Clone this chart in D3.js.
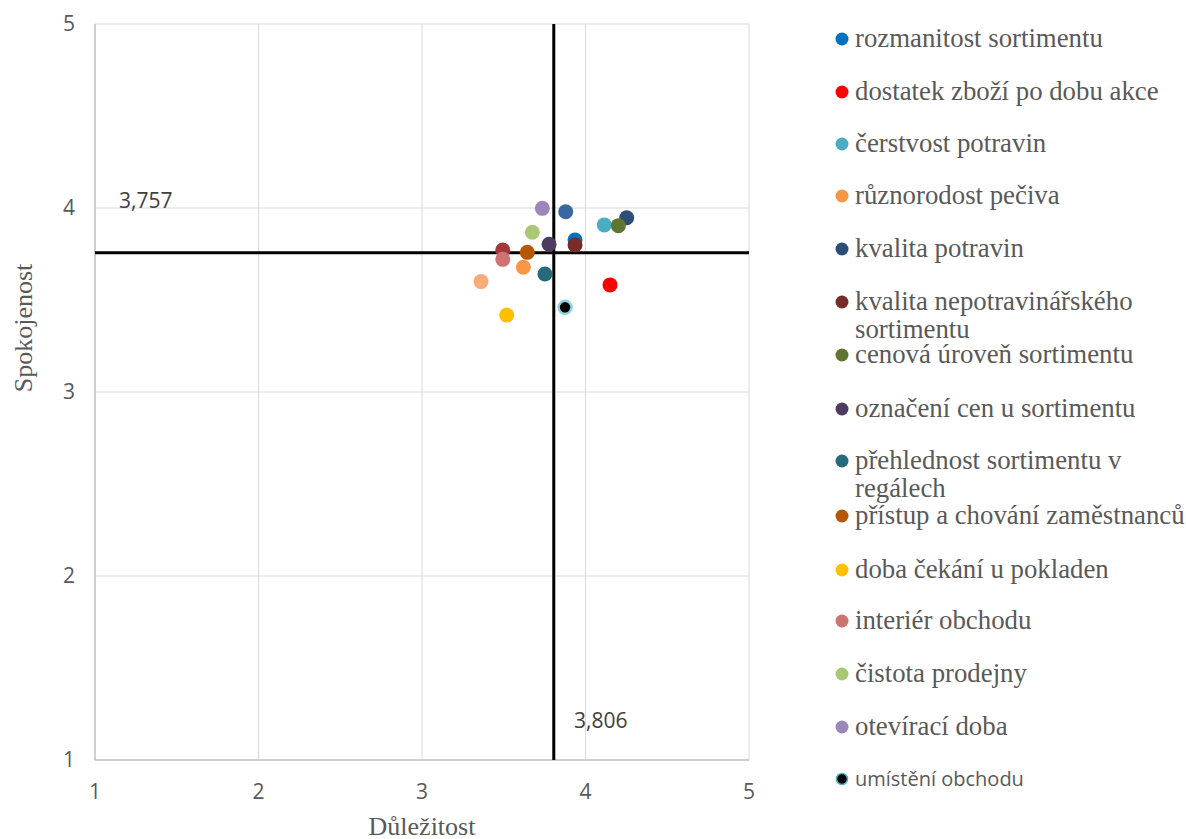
<!DOCTYPE html>
<html><head><meta charset="utf-8">
<script src="https://cdn.jsdelivr.net/npm/d3@7"></script>
<style>body{margin:0;background:#fff}</style>
</head><body>
<svg id="c" width="1186" height="839"></svg>
<script>
// Legend series (name, colour)
const seriesNames = ["rozmanitost sortimentu","dostatek zboží po dobu akce","čerstvost potravin","různorodost pečiva","kvalita potravin","kvalita nepotravinářského sortimentu","cenová úroveň sortimentu","označení cen u sortimentu","přehlednost sortimentu v regálech","přístup a chování zaměstnanců","doba čekání u pokladen","interiér obchodu","čistota prodejny","otevírací doba","umístění obchodu"];
const seriesColors = ["#0070C0","#FF0000","#4BACC6","#F79646","#2C4D75","#772C2A","#5F7530","#4D3B62","#276A7C","#B65708","#FFC000","#CD7371","#A9C873","#9C86BA","#000000"];
// Points: importance (x) and satisfaction (y) for each series, drawn in this order
const pointSeries = ["rozmanitost sortimentu","extra1","extra2","extra3","dostatek zboží po dobu akce","čerstvost potravin","různorodost pečiva","kvalita potravin","interiér obchodu","kvalita nepotravinářského sortimentu","cenová úroveň sortimentu","označení cen u sortimentu","přehlednost sortimentu v regálech","přístup a chování zaměstnanců","doba čekání u pokladen","čistota prodejny","otevírací doba","umístění obchodu"];
const pointX = [3.936,3.879,3.361,3.494,4.150,4.115,3.620,4.252,3.494,3.936,4.201,3.777,3.752,3.644,3.518,3.675,3.736,3.875];
const pointY = [3.826,3.980,3.600,3.772,3.582,3.908,3.678,3.947,3.721,3.799,3.904,3.803,3.641,3.759,3.418,3.868,3.998,3.460];
const extraColors = {extra1:"#3A67A0",extra2:"#F9AC78",extra3:"#A03A3A"};
const xTicks = [1,2,3,4,5];
const yTicks = [1,2,3,4,5];
const meanX = 3.806, meanY = 3.757;
const meanXLabel = "3,806", meanYLabel = "3,757";
const xTitle = "Důležitost", yTitle = "Spokojenost";

const svg = d3.select("#c");
const x = d3.scaleLinear().domain([1,5]).range([95,749]);
const y = d3.scaleLinear().domain([1,5]).range([760,24]);
const colorOf = n => extraColors[n] || seriesColors[seriesNames.indexOf(n)];
const sansFont = "'Open Sans', 'Liberation Sans', sans-serif";
const serifFont = "'Liberation Serif', serif";

// gridlines
svg.append("g").selectAll("line").data(xTicks).join("line")
  .attr("x1",d=>x(d)).attr("x2",d=>x(d)).attr("y1",y(1)).attr("y2",y(5))
  .attr("stroke",d=>d===1?"#bfbfbf":"#d9d9d9").attr("stroke-width",d=>d===1?1.5:1);
svg.append("g").selectAll("line").data(yTicks).join("line")
  .attr("y1",d=>y(d)).attr("y2",d=>y(d)).attr("x1",x(1)).attr("x2",x(5))
  .attr("stroke",d=>d===1?"#bfbfbf":"#d9d9d9").attr("stroke-width",d=>d===1?1.5:1);

// tick labels
svg.append("g").selectAll("text").data(xTicks).join("text")
  .attr("x",d=>x(d)).attr("y",799).attr("text-anchor","middle")
  .attr("font-family",sansFont).attr("font-size",21).attr("fill","#595959").text(d=>d);
svg.append("g").selectAll("text").data(yTicks).join("text")
  .attr("x",75).attr("y",d=>y(d)+7).attr("text-anchor","end")
  .attr("font-family",sansFont).attr("font-size",21).attr("fill","#595959").text(d=>d);

// axis titles
svg.append("text").attr("x",422).attr("y",835).attr("text-anchor","middle")
  .attr("font-family",serifFont).attr("font-size",26).attr("fill","#595959").text(xTitle);
svg.append("text").attr("transform","translate(32,328) rotate(-90)").attr("text-anchor","middle")
  .attr("font-family",serifFont).attr("font-size",26).attr("fill","#595959").text(yTitle);

// mean lines
svg.append("line").attr("x1",x(meanX)).attr("x2",x(meanX)).attr("y1",y(5)).attr("y2",y(1))
  .attr("stroke","#000").attr("stroke-width",3);
svg.append("line").attr("x1",x(1)).attr("x2",x(5)).attr("y1",y(meanY)).attr("y2",y(meanY))
  .attr("stroke","#000").attr("stroke-width",3);
svg.append("text").attr("x",119).attr("y",208).attr("font-family",sansFont).attr("font-size",21)
  .attr("fill","#404040").text(meanYLabel);
svg.append("text").attr("x",574).attr("y",728).attr("font-family",sansFont).attr("font-size",21)
  .attr("fill","#404040").text(meanXLabel);

// points
const pts = pointSeries.map((s,i)=>({s,x:pointX[i],y:pointY[i]}));
svg.append("g").selectAll("circle").data(pts).join("circle")
  .attr("cx",d=>x(d.x)).attr("cy",d=>y(d.y))
  .attr("r",d=>d.s==="umístění obchodu"?6.5:7.5)
  .attr("fill",d=>colorOf(d.s))
  .attr("stroke",d=>d.s==="umístění obchodu"?"#8ED3E6":"none")
  .attr("stroke-width",2.5);

// legend
const legendY = [39,92,144,196,249,302,355,409,461,516,570,621,674,727,779];
const lg = svg.append("g");
seriesNames.forEach((n,i)=>{
  const yy = legendY[i];
  lg.append("circle").attr("cx",842).attr("cy",yy).attr("r",n==="umístění obchodu"?5.5:6.5)
    .attr("fill",seriesColors[i])
    .attr("stroke",n==="umístění obchodu"?"#4BACC6":"none").attr("stroke-width",1.5);
  const isSans = n==="umístění obchodu";
  let lines = [n];
  if (n==="kvalita nepotravinářského sortimentu") lines=["kvalita nepotravinářského","sortimentu"];
  if (n==="přehlednost sortimentu v regálech") lines=["přehlednost sortimentu v","regálech"];
  const t = lg.append("text").attr("x",855).attr("y",yy+(isSans?7:8))
    .attr("font-family",isSans?sansFont:serifFont)
    .attr("font-size",isSans?20:26.8).attr("fill","#595959");
  lines.forEach((l,j)=>t.append("tspan").attr("x",855).attr("dy",j===0?0:28).text(l));
});
</script>
</body></html>
